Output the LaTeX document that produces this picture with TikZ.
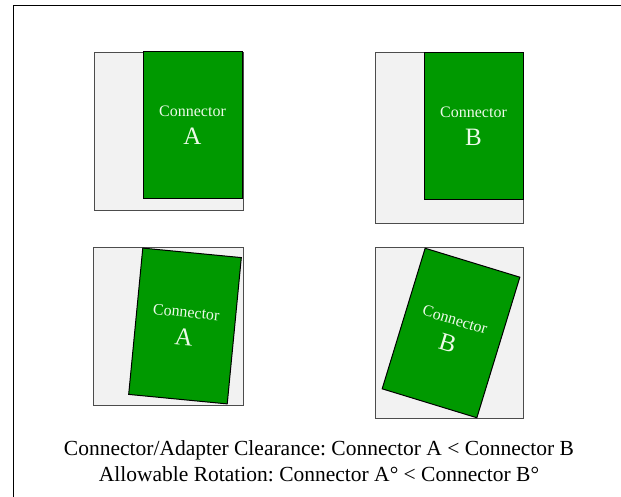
\documentclass[tikz,border=0pt]{standalone}
\usepackage{fontspec}
\setmainfont{Liberation Serif}

\definecolor{conngreen}{RGB}{0,153,0}
\definecolor{gapgray}{RGB}{242,242,242}
\definecolor{conntext}{RGB}{236,250,232}

\newcommand{\connlabel}[1]{Connector\\{\fontsize{25}{28}\selectfont #1}}

\begin{document}
\begin{tikzpicture}[x=1pt, y=-1pt,
    gapbox/.style={draw=black!70, fill=gapgray, line width=0.8pt},
    conn/.style={draw=black, fill=conngreen, line width=1pt,
        minimum width=99pt, minimum height=147pt, inner sep=0pt,
        align=center, text=conntext, font=\fontsize{16}{28}\selectfont},
    caption/.style={font=\fontsize{21.5}{24}\selectfont}]

\useasboundingbox (0,0) rectangle (621,497);

% Frame (runs off the right and bottom edges)
\draw[line width=1.5pt] (13.5,497) -- (13.5,5.5) -- (621,5.5);

% Clearance around each connector
\draw[gapbox] (94,52) rectangle (243,210);
\draw[gapbox] (375,52) rectangle (523,223);
\draw[gapbox] (93,247) rectangle (243,405);
\draw[gapbox] (375,247) rectangle (523,418);

% Connectors, straight
\node[conn] (connA) at (192.5,125.5) {\connlabel{A}};
\node[conn] (connB) at (473.5,126) {\connlabel{B}};

% Connectors, rotated as far as the clearance allows
\def\rotA{-5.5}  % degrees
\def\rotB{-17}   % degrees
\node[conn, rotate=\rotA] (connAr) at (185,326) {\connlabel{A}};
\node[conn, rotate=\rotB] (connBr) at (451,333) {\connlabel{B}};

% Caption
\node[caption] (clear) at (319,450) {Connector/Adapter Clearance:\ Connector A < Connector B};
\node[caption] (rot) at (319,474) {Allowable Rotation:\ Connector A° < Connector B°};

\end{tikzpicture}
\end{document}
